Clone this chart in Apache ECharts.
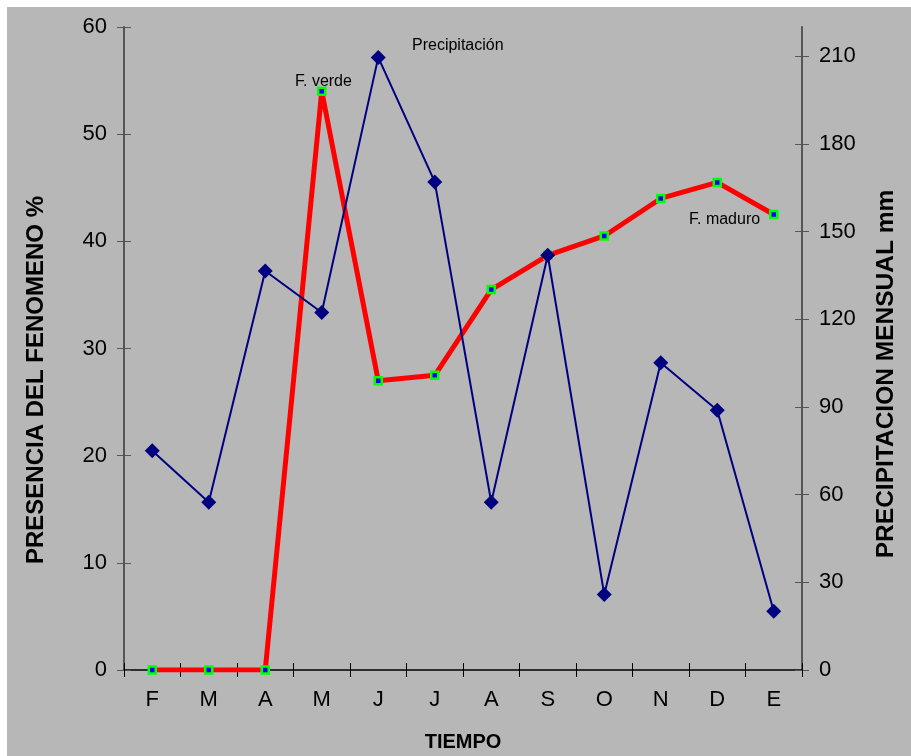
<!DOCTYPE html>
<html>
<head>
<meta charset="utf-8">
<script src="https://cdn.jsdelivr.net/npm/echarts@6/dist/echarts.min.js"></script>
<style>
  html, body { margin: 0; padding: 0; background: #ffffff; }
  #chart { width: 911px; height: 756px; }
</style>
</head>
<body>
<div id="chart"></div>
<script>
// Months from February through January
const months = ['F', 'M', 'A', 'M', 'J', 'J', 'A', 'S', 'O', 'N', 'D', 'E'];
// Presence of the phenomenon (%), left axis
const presencia = [0, 0, 0, 54, 27, 27.5, 35.5, 38.7, 40.5, 44, 45.5, 42.5];
// Monthly rainfall (mm), right axis
const precipitacion = [75, 57.4, 136.5, 122.3, 209.6, 167, 57.4, 141.9, 25.8, 105.1, 88.9, 20.1];
// Tick values of the rainfall axis
const precipTicks = [0, 30, 60, 90, 120, 150, 180, 210];

const FONT = '"Liberation Sans", Arial, sans-serif';
const chart = echarts.init(document.getElementById('chart'), null, { renderer: 'canvas' });

const leftBase = {
  type: 'value', min: 0, max: 60, interval: 10, position: 'left',
  splitLine: { show: false }
};
const rightBase = {
  type: 'value', min: 0, max: 220, interval: 30, position: 'right',
  splitLine: { show: false }
};

chart.setOption({
  animation: false,
  backgroundColor: '#ffffff',
  grid: { left: 124, right: 109, top: 27, bottom: 86, containLabel: false },
  xAxis: [
    {
      type: 'category', data: months, boundaryGap: true, position: 'bottom',
      axisLine: { show: true, lineStyle: { color: '#000000', width: 1.5 } },
      axisTick: { show: true, length: 7, lineStyle: { color: '#000000', width: 1 } },
      axisLabel: { fontSize: 22, color: '#000000', margin: 19, fontFamily: FONT }
    },
    {
      type: 'category', data: months, boundaryGap: true, position: 'bottom',
      axisLine: { show: false },
      axisTick: { show: true, inside: true, length: 7, lineStyle: { color: '#000000', width: 1 } },
      axisLabel: { show: false }
    }
  ],
  yAxis: [
    Object.assign({}, leftBase, {
      axisLine: { show: true, lineStyle: { color: '#555555', width: 2 } },
      axisTick: { show: true, length: 7, lineStyle: { color: '#555555', width: 1 } },
      axisLabel: { fontSize: 22, color: '#000000', margin: 17, fontFamily: FONT }
    }),
    Object.assign({}, rightBase, {
      axisLine: { show: true, lineStyle: { color: '#555555', width: 2 } },
      axisTick: { show: true, length: 7, customValues: precipTicks, lineStyle: { color: '#555555', width: 1 } },
      axisLabel: { fontSize: 22, color: '#000000', margin: 17, fontFamily: FONT, customValues: precipTicks }
    }),
    Object.assign({}, leftBase, {
      axisLine: { show: false },
      axisTick: { show: true, inside: true, length: 7, lineStyle: { color: '#555555', width: 1 } },
      axisLabel: { show: false }
    }),
    Object.assign({}, rightBase, {
      axisLine: { show: false },
      axisTick: { show: true, inside: true, length: 7, customValues: precipTicks, lineStyle: { color: '#555555', width: 1 } },
      axisLabel: { show: false }
    })
  ],
  series: [
    {
      name: 'Presencia', type: 'line', xAxisIndex: 0, yAxisIndex: 0,
      data: presencia, showAllSymbol: true,
      symbol: 'rect', symbolSize: 7,
      lineStyle: { color: '#ff0000', width: 5 },
      itemStyle: { color: '#0000ff', borderColor: '#00ff00', borderWidth: 2.5 },
      emphasis: { disabled: true }, z: 2
    },
    {
      name: 'Precipitación', type: 'line', xAxisIndex: 0, yAxisIndex: 1,
      data: precipitacion, showAllSymbol: true,
      symbol: 'diamond', symbolSize: 15,
      lineStyle: { color: '#000080', width: 2 },
      itemStyle: { color: '#000080', borderWidth: 0 },
      emphasis: { disabled: true }, z: 3
    }
  ],
  graphic: [
    {
      type: 'rect', z: -100, silent: true,
      shape: { x: 7, y: 7, width: 904, height: 749 },
      style: { fill: '#b7b7b7' }
    },
    {
      type: 'text', x: 36, y: 380, rotation: Math.PI / 2,
      style: { text: 'PRESENCIA DEL FENOMENO %', font: 'bold 24px ' + FONT, fill: '#000000',
               textAlign: 'center', textVerticalAlign: 'middle' }
    },
    {
      type: 'text', x: 886, y: 374, rotation: Math.PI / 2,
      style: { text: 'PRECIPITACION MENSUAL mm', font: 'bold 24.5px ' + FONT, fill: '#000000',
               textAlign: 'center', textVerticalAlign: 'middle' }
    },
    {
      type: 'text', x: 463, y: 742,
      style: { text: 'TIEMPO', font: 'bold 20px ' + FONT, fill: '#000000',
               textAlign: 'center', textVerticalAlign: 'middle' }
    },
    {
      type: 'text', x: 412, y: 46,
      style: { text: 'Precipitación', font: '16px ' + FONT, fill: '#000000',
               textAlign: 'left', textVerticalAlign: 'middle' }
    },
    {
      type: 'text', x: 295, y: 82,
      style: { text: 'F. verde', font: '16px ' + FONT, fill: '#000000',
               textAlign: 'left', textVerticalAlign: 'middle' }
    },
    {
      type: 'text', x: 689, y: 220,
      style: { text: 'F. maduro', font: '16px ' + FONT, fill: '#000000',
               textAlign: 'left', textVerticalAlign: 'middle' }
    }
  ]
});
</script>
</body>
</html>
